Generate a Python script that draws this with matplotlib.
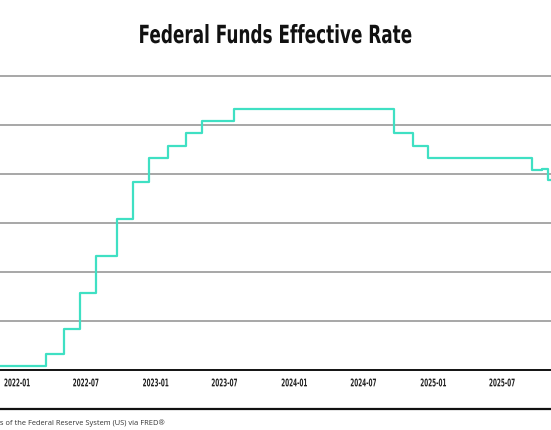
import numpy as np
import pandas as pd
import matplotlib
matplotlib.use('Agg')
import matplotlib.pyplot as plt
from matplotlib.lines import Line2D
from matplotlib.patheffects import AbstractPathEffect
from matplotlib.transforms import Affine2D

# Fechas de cambio de la tasa efectiva y su valor (%)
fechas = ['2021-11-17', '2022-03-17', '2022-05-05', '2022-06-16', '2022-07-28',
          '2022-09-22', '2022-11-03', '2022-12-15', '2023-02-02', '2023-03-23',
          '2023-05-04', '2023-07-27', '2024-09-19', '2024-11-08', '2024-12-19',
          '2025-09-18', '2025-10-15', '2025-10-30', '2025-11-07']
tasas = [0.08, 0.33, 0.83, 1.58, 2.33,
         3.08, 3.83, 4.33, 4.58, 4.83,
         5.08, 5.33, 4.83, 4.58, 4.33,
         4.08, 4.11, 3.87, 3.87]

etiquetas_x = ['2022-01', '2022-07', '2023-01', '2023-07', '2024-01',
               '2024-07', '2025-01', '2025-07']

titulo = 'Federal Funds Effective Rate'
fuente = 'Source: Board of Governors of the Federal Reserve System (US) via FRED®'

fechas = pd.to_datetime(fechas)
ticks_x = pd.to_datetime([e + '-01' for e in etiquetas_x])


# Efecto para "condensar" el texto horizontalmente (no hay fuentes condensadas)
class Condensar(AbstractPathEffect):
    def __init__(self, sx):
        super().__init__()
        self.sx = sx

    def draw_path(self, renderer, gc, tpath, affine, rgbFace=None):
        ext = tpath.get_extents()
        xc = (ext.x0 + ext.x1) / 2
        t = Affine2D().scale(self.sx, 1).translate((1 - self.sx) * xc, 0) + affine
        renderer.draw_path(gc, tpath, t, rgbFace)


fig = plt.figure(figsize=(5.51, 4.31), dpi=100)
W, H = 551, 431

# Eje que ocupa todo el ancho (el original esta recortado)
y0 = 371
top = 371 - 6.3 * 49
ax = fig.add_axes([0, 1 - y0 / H, 1, (y0 - top) / H])

ax.plot(fechas, tasas, drawstyle='steps-post', color='#3fe0c3', lw=1.6, zorder=3)

ax.set_xlim(pd.Timestamp('2021-11-17'), pd.Timestamp('2025-11-07'))
ax.set_ylim(0, 6.3)
ax.set_yticks([1, 2, 3, 4, 5, 6])
ax.yaxis.grid(True, color='#8f8f8f', lw=1.1)
ax.set_axisbelow(True)
ax.tick_params(axis='y', length=0, labelleft=False)

ax.set_xticks(ticks_x)
ax.set_xticklabels(etiquetas_x, family='DejaVu Sans', fontsize=7.6,
                   fontweight='bold', color='#222222')
for lbl in ax.get_xticklabels():
    lbl.set_path_effects([Condensar(0.54)])
ax.tick_params(axis='x', length=0, pad=6)

for s in ['top', 'left', 'right']:
    ax.spines[s].set_visible(False)
ax.spines['bottom'].set_color('#111111')
ax.spines['bottom'].set_linewidth(1.4)

# Titulo
t = fig.text(0.5, 1 - 37 / H, titulo, ha='center', va='center', fontsize=18,
             fontweight='bold', family='DejaVu Sans', color='#111111')
t.set_path_effects([Condensar(0.675)])

# Linea separadora y fuente
fig.add_artist(Line2D([0, 1], [1 - 410 / H, 1 - 410 / H], transform=fig.transFigure,
                      color='#111111', lw=1.6))
fig.text(165 / W, 1 - 423 / H, fuente, ha='right', va='center', fontsize=5.45,
         family=['Open Sans', 'DejaVu Sans'], color='#333333')

fig.savefig('out.png', dpi=100)
